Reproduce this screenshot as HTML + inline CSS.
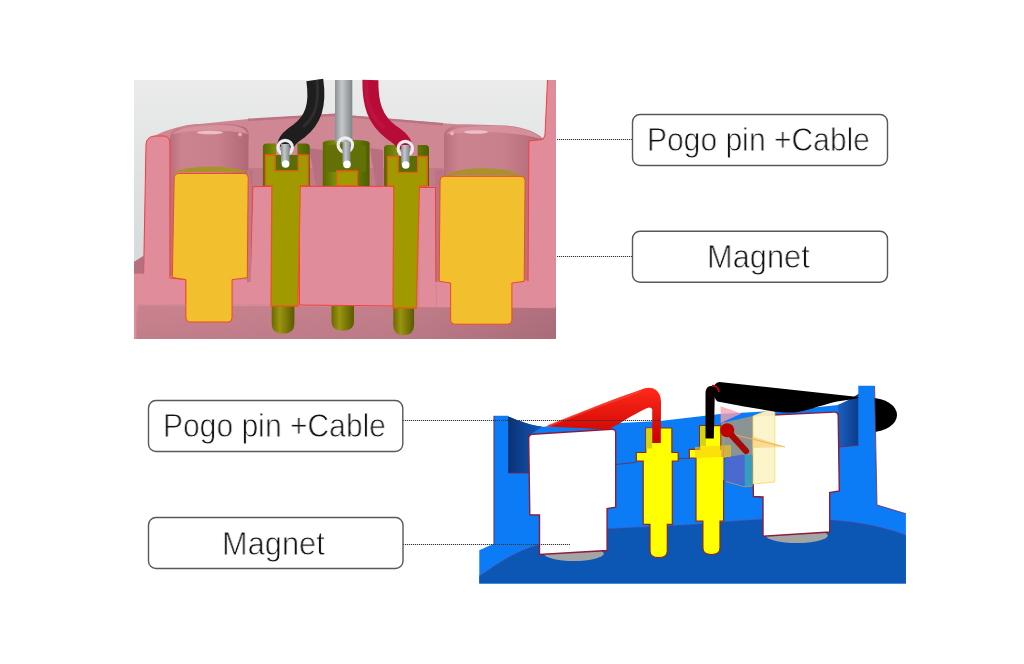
<!DOCTYPE html>
<html><head><meta charset="utf-8">
<style>
html,body{margin:0;padding:0;background:#fff;}
body{width:1024px;height:664px;position:relative;overflow:hidden;font-family:"Liberation Sans",sans-serif;}
.lbl{position:absolute;will-change:transform;white-space:nowrap;color:#111;-webkit-text-stroke:0.8px #fff;font-size:33px;line-height:33px;transform-origin:0 0;}
svg{position:absolute;left:0;top:0;}
</style></head>
<body>
<svg width="1024" height="664" viewBox="0 0 1024 664">
  <g id="top-img">
  <defs>
    <linearGradient id="gbg" x1="0" y1="0" x2="0" y2="1">
      <stop offset="0" stop-color="#ebebeb"/><stop offset="1" stop-color="#cdd3d3"/>
    </linearGradient>
    <linearGradient id="gcyl" x1="0" y1="0" x2="1" y2="0">
      <stop offset="0" stop-color="#b86e7c"/><stop offset="0.15" stop-color="#cc8390"/><stop offset="0.6" stop-color="#c9808d"/><stop offset="1" stop-color="#b06876"/>
    </linearGradient>
    <linearGradient id="gfloor" x1="0" y1="0" x2="1" y2="0">
      <stop offset="0" stop-color="#c9838f"/><stop offset="0.6" stop-color="#c47f8c"/><stop offset="1" stop-color="#b0707e"/>
    </linearGradient>
    <linearGradient id="gfloorv" x1="0" y1="0" x2="0" y2="1">
      <stop offset="0" stop-color="#000" stop-opacity="0"/><stop offset="1" stop-color="#000" stop-opacity="0.04"/>
    </linearGradient>
    <linearGradient id="gcol" x1="0" y1="0" x2="1" y2="0">
      <stop offset="0" stop-color="#566800"/><stop offset="0.25" stop-color="#7a8a0a"/><stop offset="0.55" stop-color="#74860a"/><stop offset="1" stop-color="#4e5e00"/>
    </linearGradient>
    <linearGradient id="gtip" x1="0" y1="0" x2="1" y2="0">
      <stop offset="0" stop-color="#6a6a00"/><stop offset="0.35" stop-color="#9a9410"/><stop offset="1" stop-color="#5a5a00"/>
    </linearGradient>
    <linearGradient id="gwire" x1="0" y1="0" x2="1" y2="0">
      <stop offset="0" stop-color="#8a9094"/><stop offset="0.4" stop-color="#c4c8ca"/><stop offset="1" stop-color="#7f8589"/>
    </linearGradient>
  </defs>
  <!-- background -->
  <rect x="134" y="80" width="422" height="259" fill="url(#gbg)"/>
  <!-- rear housing surface -->
  <path d="M146,141 C160,131 178,126 200,124 L248,119 L336,113.8 L352,115.6 L443,123.3 C500,127 530,132 546,139.5 L547,339 L134,339 L134,262 L144,256 Z" fill="#cf8794"/>
  <path d="M248,119.8 L336,114.8 L352,116.6 L443,124.3" fill="none" stroke="#b97383" stroke-width="2.4"/>
  <!-- darker band behind collars -->
  <path d="M248,168 L443,168 L443,190 L248,190 Z" fill="#c27a88"/>
  <!-- notches in back wall -->
  <path d="M309,148 L323,150 L323,186 L316,186 Z" fill="#b87080"/>
  <path d="M370,148 L383,150 L383,186 L376,186 Z" fill="#b87080"/>
  <!-- left pocket cylinder -->
  <path d="M169.9,276 L169.9,138 C172,128 182,124.5 200,124 C222,123 240,124 246,128 C249,131 249,136 248.5,140 L248,276 Z" fill="url(#gcyl)"/>
  <path d="M172,134 C180,127 200,125 222,125 C238,125 246,128 248,134 C232,130 200,129 172,134 Z" fill="#d8919e" opacity="0.9"/>
  <ellipse cx="210" cy="132.5" rx="13" ry="1.8" fill="#f2c4cc" opacity="0.9"/>
  <ellipse cx="240" cy="134.5" rx="2" ry="2" fill="#f2c4cc" opacity="0.7"/>
  <!-- right pocket cylinder -->
  <path d="M444,280 L444,135 C445,128 452,124.5 465.7,124.2 L506,125.6 C525,127 538,133 543,139 L530.7,141 L530.7,280 Z" fill="url(#gcyl)"/>
  <path d="M446,134 C452,127 470,125.5 500,126 C522,127 536,132 542,139 C520,133 490,130 446,134 Z" fill="#d8919e" opacity="0.9"/>
  <ellipse cx="476" cy="132" rx="12" ry="1.8" fill="#f2c4cc" opacity="0.9"/>
  <ellipse cx="452" cy="133.5" rx="2" ry="2" fill="#f2c4cc" opacity="0.7"/>
  <!-- magnet top ellipses -->
  <path d="M173,172 C190,165 232,165 247,172 Z" fill="#a8922a"/>
  <path d="M445,175 C460,166 505,166 522,175 Z" fill="#a8922a"/>
  <!-- floor slab -->
  <path d="M136.3,339 L136.3,310 C136.3,306 138,304 142,304 L556,307 L556,339 Z" fill="url(#gfloor)"/>
  <path d="M136.3,339 L136.3,310 C136.3,306 138,304 142,304 L556,307 L556,339 Z" fill="url(#gfloorv)"/>
  <path d="M137,312 C137,306 139,304.6 143,304.6 L555,307.6" fill="none" stroke="#d98b98" stroke-width="1.2"/>
  <!-- left wall section -->
  <path d="M134,339 L134,273.6 L143.6,273.6 L146,145 C146.5,138.5 150,136 156,136 L163,136 C168,136 169.9,139 169.9,145 L169.9,276.6 L185.9,279.6 L185.9,304 L142,304 C138,304 136.3,306 136.3,310 L136.3,339 Z" fill="#e08c9a"/>
  <path d="M143.6,273.6 L146,145 C146.5,138.5 150,136 156,136 L163,136 C168,136 169.9,139 169.9,145 L169.9,278 L185.9,279.6 L185.9,304" fill="none" stroke="#f0403c" stroke-width="1"/>
  <!-- mauve wedge at left -->
  <path d="M134,262 L144,255.6 L143.6,273.6 L134,273.6 Z" fill="#b56f7d"/>
  <!-- right wall sections -->
  <path d="M528.9,141 L543,139.5 L545,135 L547.5,80 L556,80 L556,307 L527.9,307 Z" fill="#e08c9a"/>
  <path d="M527.9,307 L528.9,141 L543,139.5 L545,135 L547.5,80" fill="none" stroke="#f0403c" stroke-width="1"/>
  <path d="M511.9,281.3 L525.8,281.3 L530.7,281.3 L530.7,307 L511.9,307 Z" fill="#e08c9a"/>
  <path d="M248,280 L271.8,280 L271.8,304 L248,304 Z" fill="#e08c9a"/>
  <path d="M233.3,279.6 L248,279.6 L248,304.5 L233.3,304.5 Z" fill="#e08c9a"/>
  <path d="M435,170 L444,170 L444,282 L435,282 Z" fill="#b97585"/>
  <path d="M247,170 L253,170 L253,282 L247,282 Z" fill="#b97585"/>
  <path d="M419.4,187.5 L435.4,187.5 L436,307 L419.4,307 Z" fill="#e08c9a"/>
  <path d="M419.4,187.5 L435.4,187.5 L435.9,282" fill="none" stroke="#f0403c" stroke-width="1"/>
  <path d="M437,281.3 L450.6,281.3 L450.6,307 L437,307 Z" fill="#e08c9a"/>
  <!-- section blocks -->
  <path d="M252.9,186.7 L271.8,186.4 L271.8,304.5 L250,304.5 Z" fill="#e08c9a"/>
  <path d="M250.2,280 L252.9,186.7 L271.8,186.4" fill="none" stroke="#f0403c" stroke-width="1"/>
  <path d="M299.5,186.4 L393.8,186.4 L393.8,306 L299.5,305 Z" fill="#e08c9a" stroke="#f0403c" stroke-width="1"/>
  <path d="M248,168 L251.3,186.4 L251,281 L248,281 Z" fill="#c27a88"/>
  <!-- magnets -->
  <path d="M174.2,177.5 Q174.2,173.5 178.2,173.5 L244.2,173.5 Q248.2,173.5 248.2,177.5 L247.3,277.7 L232,279.6 L232,318 Q232,322 228,322 L189.9,322 Q185.9,322 185.9,318 L185.9,279.6 L172.3,277.5 Z" fill="#f2bf2e" stroke="#f04a20" stroke-width="1"/>
  <path d="M440.1,180.3 Q440.1,176.3 444.1,176.3 L521.1,176.3 Q525.1,176.3 525.1,180.3 L524.2,281.3 L511.9,283 L511.9,320.2 Q511.9,324.2 507.9,324.2 L454.6,324.2 Q450.6,324.2 450.6,320.2 L450.6,283 L439.2,281.3 Z" fill="#f2bf2e" stroke="#f04a20" stroke-width="1"/>
  <!-- pin tips -->
  <path d="M271.7,304 L294.4,304 L294.4,323 Q294.4,333.6 283,333.6 Q271.7,333.6 271.7,323 Z" fill="url(#gtip)"/>
  <path d="M331.5,306 L354,306 L354,321 Q354,330.7 342.7,330.7 Q331.5,330.7 331.5,321 Z" fill="url(#gtip)"/>
  <path d="M393.3,307 L414.1,307 L414.1,325 Q414.1,335 403.7,335 Q393.3,335 393.3,325 Z" fill="url(#gtip)"/>
  <!-- collars (3d) -->
  <path d="M262.9,186 L262.9,147 Q262.9,143.4 266.5,143.4 L276,143.4 L276,155 L297.4,155 L297.4,143.4 L306,143.4 Q309.8,143.4 309.8,147 L309.8,186 Z" fill="url(#gcol)"/>
  <path d="M276,155 L297.4,155 L297.4,171 L276,171 Z" fill="#5a6c04"/>
  <path d="M322.8,186 L322.8,143 Q322.8,139.8 346.2,139.8 Q369.6,139.8 369.6,143 L369.6,186 Z" fill="url(#gcol)"/>
  <path d="M326,146 Q346,141 366,146 L366,172 L326,172 Z" fill="#627006"/>
  <path d="M384,186 L384,148.5 Q384,145 387.6,145 L398.2,145 L398.2,156 L417.6,156 L417.6,145 L425.5,145 Q429,145 429,148.5 L429,186 Z" fill="url(#gcol)"/>
  <path d="M398.2,156 L417.6,156 L417.6,172.4 L398.2,172.4 Z" fill="#5a6c04"/>
  <!-- pin sections -->
  <path d="M265.5,155 L275,155 L275,170.8 L298.2,170.8 L298.2,155 L308.2,155 L308.2,185.6 L300.3,185.6 L297.8,306 L271,306 L271.9,185.6 L265.5,185.6 Z" fill="#a09a00" stroke="#e85a18" stroke-width="1.3"/>
  <path d="M336.7,171 L357.5,171 L357.5,185.7 L336.7,185.7 Z" fill="#a09a00" stroke="#e85a18" stroke-width="1.3"/>
  <path d="M387.6,156.5 L398.2,156.5 L398.2,172.4 L417.6,172.4 L417.6,156.5 L427.3,156.5 L427.3,186 L419.4,186 L416.3,308 L393,308 L393.8,186 L387.6,186 Z" fill="#a09a00" stroke="#e85a18" stroke-width="1.3"/>
  <!-- cables -->
  <path d="M314.8,80 C318.5,106 313,120 299,131 C290,137 286,141 285.3,147" fill="none" stroke="#1e1e1e" stroke-width="17"/>
  <path d="M317,80 C319.5,104 315,117 303,127" fill="none" stroke="#2e2e2e" stroke-width="3"/>
  <rect x="335" y="80" width="17.3" height="62" fill="url(#gwire)"/>
  <path d="M370.4,80 C370,104 375,120 391,132 C400,138 404,142 405.3,148.5" fill="none" stroke="#b80c38" stroke-width="16"/>
  <path d="M366,80 C366,102 370,116 384,128" fill="none" stroke="#c8184a" stroke-width="4" opacity="0.5"/>
  <!-- wires + rings -->
  <circle cx="285.2" cy="147.5" r="7.2" fill="none" stroke="#eeeeee" stroke-width="3.2"/>
  <circle cx="345.3" cy="145" r="7.2" fill="none" stroke="#eeeeee" stroke-width="3.2"/>
  <circle cx="405.3" cy="148.5" r="7.2" fill="none" stroke="#eeeeee" stroke-width="3.2"/>
  <rect x="281" y="144" width="8.6" height="20" fill="url(#gwire)"/>
  <rect x="342.5" y="142" width="8" height="22" fill="url(#gwire)"/>
  <rect x="401.2" y="145" width="8.4" height="20" fill="url(#gwire)"/>
  <circle cx="285.6" cy="164" r="3.8" fill="#fff"/>
  <circle cx="347" cy="164.4" r="3.8" fill="#fff"/>
  <circle cx="405.7" cy="165" r="3.8" fill="#fff"/>
  </g>
  <g id="bot-img">
  <defs>
    <linearGradient id="gdw" x1="0" y1="0" x2="1" y2="0">
      <stop offset="0" stop-color="#0a3276"/><stop offset="1" stop-color="#1458b4"/>
    </linearGradient>
    <linearGradient id="gdw2" x1="0" y1="0" x2="1" y2="0">
      <stop offset="0" stop-color="#1a60c0"/><stop offset="1" stop-color="#0c3c88"/>
    </linearGradient>
    <linearGradient id="gred" x1="0" y1="0" x2="0" y2="1">
      <stop offset="0" stop-color="#ff2a1a"/><stop offset="1" stop-color="#c80000"/>
    </linearGradient>
  </defs>
  <ellipse cx="871" cy="415" rx="26" ry="17" fill="#000"/>
  <!-- housing light blue -->
  <path d="M479.3,583.5 L479.3,550.2 L493.7,543.8 L493.7,415.8 L508.1,415.8 L508.1,416.4 C515,419 525,424 542.4,426.7 L660,421 L720,414 L790,410 L838,405 Q850,400 858.3,394 L858.3,385.8 L874.4,385.8 L877,505 L905.9,513.7 L905.9,583.5 Z" fill="#0c7cf6"/>
  <!-- dark inner walls -->
  <path d="M508.1,416.4 C515,419 525,424 542.4,426.7 L531,434 L529.2,473 L508.1,473 Z" fill="url(#gdw)"/>
  <path d="M838,405 Q850,400 858.3,394 L858.3,445.3 L838,447 Z" fill="url(#gdw2)"/>
  <!-- floor dark -->
  <path d="M479.3,576 C495,566 512,552 539.5,544.5 L608.2,528.7 L695,524.4 C760,518 845,512 905.9,535.2 L905.9,583.5 L479.3,583.5 Z" fill="#0c57b4"/>
  <path d="M479.3,576 C495,566 512,552 539.5,544.5 L608.2,528.7 L695,524.4 C760,518 845,512 905.9,535.2" fill="none" stroke="#7a3a8a" stroke-width="0.8" opacity="0.6"/>
  <!-- section lines in housing -->
  <path d="M508.1,473 L529.2,473 M494,416 L494,543.8 M874.6,386 L877,505 L905.9,513.7 M615.5,464.5 L636.3,462.3 M678,458.6 L689.3,458.2 M732,457.5 L740,457 M838,447 L858.3,445.3" fill="none" stroke="#7a2448" stroke-width="1" opacity="0.8"/>
  <!-- gray ellipses -->
  <ellipse cx="573.8" cy="553.5" rx="30" ry="7.5" fill="#a4a4a4"/>
  <ellipse cx="796.8" cy="535.5" rx="31" ry="7.5" fill="#a4a4a4"/>
  <!-- magnets -->
  <path d="M532.7,434.2 L611.7,429.3 Q615.7,429 615.7,433 L615.7,507.2 L607.1,508.6 L607.1,550.5 L539.5,554.5 L539.5,515 L529.8,514.7 L528.7,438.5 Q528.7,434.5 532.7,434.2 Z" fill="#fff" stroke="#8a1c3c" stroke-width="1.4"/>
  <path d="M756.3,415.8 L834.2,412.1 Q838.2,411.9 838.2,415.9 L839.3,491 L829.7,492.5 L829.7,532 L763,536.2 L763,497 L753.4,496.5 L752.3,420 Q752.3,416 756.3,415.8 Z" fill="#fff" stroke="#8a1c3c" stroke-width="1.4"/>
  <!-- pins -->
  <path d="M645.8,428 L671.9,428 L671.9,452.5 L678.2,452.5 L678.2,461.2 L672.3,461.2 L672.3,524.4 L667.3,524.4 L667.3,551 Q667.3,557.7 658.6,557.7 Q650,557.7 650,551 L650,524.4 L643.2,524.4 L643.2,461.2 L636.3,461.2 L636.3,452.5 L645.8,452.5 Z" fill="#ffff00" stroke="#8a2a20" stroke-width="1.2"/>
  <rect x="646.2" y="428.5" width="6" height="20" fill="#d4d414"/>
  <path d="M699.6,425.6 L720.9,425.6 L720.9,449.3 L732,449.3 L732,458 L723.6,458 L723.6,521.2 L720,521.2 L720,548 Q720,554.5 711.5,554.5 Q702.9,554.5 702.9,548 L702.9,521.2 L696,521.2 L696,458 L689.3,458 L689.3,449.3 L699.6,449.3 Z" fill="#ffff00" stroke="#8a2a20" stroke-width="1.2"/>
  <rect x="700" y="426" width="6" height="20" fill="#d4d414"/>
  <!-- red cable 1 -->
  <path d="M545.9,426.5 C560,421 600,404 640,390 Q650,385.5 656,390 Q661,394 661,402 L660.8,443 L652.2,443 L652.2,409 Q650,406 645,409 C630,416 620,424 608,429.5 Z" fill="url(#gred)"/>
  <path d="M548,426 C580,413 615,400 641,391" fill="none" stroke="#ff4a3a" stroke-width="2" opacity="0.6"/>
  <!-- translucent box -->
  <path d="M721.3,423 L753,416 L753,455.2 L721.3,457 Z" fill="#8a9494"/>
  <path d="M725.9,457 L744.7,454.6 L744.7,484 L725.9,481.5 Z" fill="#4a6ad0"/>
  <path d="M744.7,454.6 L752.5,455 L752.5,486 L744.7,486.8 Z" fill="#3a9cbc"/>
  <path d="M720.6,406.3 L741.5,413.5 L720.6,423 Z" fill="#f4a0b0" opacity="0.8"/>
  <path d="M753,416 L774.8,407.8 L774.8,482 L753,484 Z" fill="#fcf3c8" opacity="0.95"/>
  <path d="M753,416 L774.8,407.8 L774.8,482 L753,484 Z" fill="none" stroke="#f0dc60" stroke-width="0.8"/>
  <path d="M695,447 L731,445 L731,456.7 L695,458 Z" fill="#f8cc10" opacity="0.6"/>
  <path d="M752.5,436 L785,447 L752.5,448 Z" fill="#f6c868" opacity="0.55"/>
  <path d="M731,434 L785,447" fill="none" stroke="#f0b040" stroke-width="1.2" opacity="0.8"/>
  <path d="M723.5,420 L723.5,480 M725.9,481.5 L744.7,486.8 L752.5,486" fill="none" stroke="#f08a40" stroke-width="1" opacity="0.8"/>
  <!-- black cable -->
  <path d="M719.3,382 L858.3,397 L858.3,398 C850,400 844,400.5 837,401.4 C822,405 812,408.5 809,409.5 C800,412 795,412.6 791.4,412.6 C782,412.6 778,412 773.8,411.5 L744,406.5 L717.6,401.4 Q713,398 713.5,390 Q714,382.5 719.3,382 Z" fill="#000"/>
  <path d="M705.5,438.6 L705.5,394 Q705.5,386 711,386 L715,386 L713.8,438.6 Z" fill="#0a0000"/>
  <path d="M712,386 Q718,385 719,392" fill="none" stroke="#a01010" stroke-width="2"/>
  <!-- red rod -->
  <path d="M727.2,430.3 L746,451" stroke="#a80808" stroke-width="6.3" stroke-linecap="round"/>
  <circle cx="727.2" cy="430.3" r="7" fill="#c00000"/>
  </g>
  <g stroke="#333" stroke-width="1" stroke-dasharray="1.2 0.8">
    <line x1="557" y1="139.5" x2="632" y2="139.5"/>
    <line x1="557" y1="256.5" x2="632" y2="256.5"/>
    <line x1="403" y1="420.5" x2="660" y2="420.5"/>
    <line x1="403" y1="544.5" x2="570" y2="544.5"/>
  </g>
  <g fill="#fff" stroke="#585858" stroke-width="1.4">
    <rect x="632.5" y="114.5" width="255" height="51" rx="7.5"/>
    <rect x="632.5" y="231.2" width="255" height="51" rx="7.5"/>
    <rect x="148.5" y="400.5" width="254.3" height="51" rx="7.5"/>
    <rect x="148.5" y="517.5" width="254.5" height="51" rx="7.5"/>
  </g>
</svg>
<div class="lbl" id="t1" style="left:647.4px;top:123px;transform:scaleX(0.91)">Pogo pin +Cable</div>
<div class="lbl" id="t2" style="left:707.3px;top:240px;transform:scaleX(0.933)">Magnet</div>
<div class="lbl" id="t3" style="left:163px;top:409.4px;transform:scaleX(0.91)">Pogo pin +Cable</div>
<div class="lbl" id="t4" style="left:222.4px;top:526.5px;transform:scaleX(0.933)">Magnet</div>
</body></html>
